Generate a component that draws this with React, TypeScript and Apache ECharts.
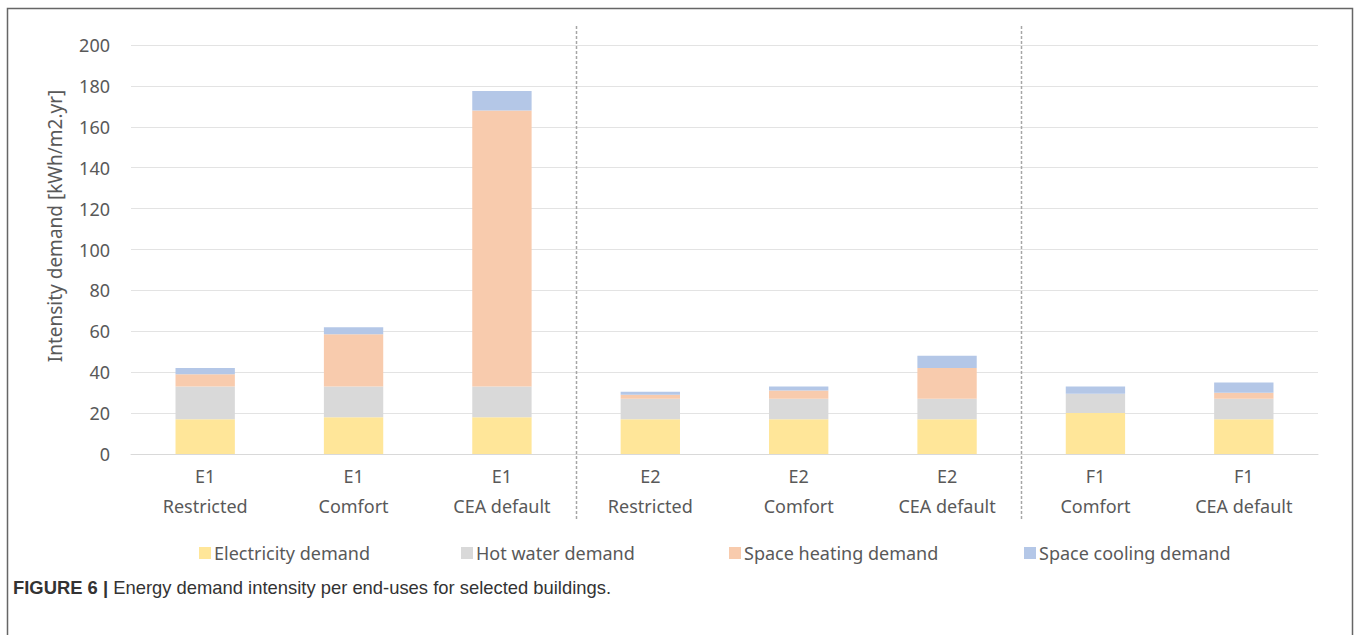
import React, { useEffect, useRef } from "react";
import * as echarts from "echarts";

// Buildings and scenarios (two-level category labels)
const categories = [
  "E1\nRestricted",
  "E1\nComfort",
  "E1\nCEA default",
  "E2\nRestricted",
  "E2\nComfort",
  "E2\nCEA default",
  "F1\nComfort",
  "F1\nCEA default",
];

// Demand intensity per end-use, kWh/m2.yr
const electricityDemand = [17, 18, 18, 17, 17, 17, 20, 17];
const hotWaterDemand = [16, 15, 15, 10, 10, 10, 9.5, 10];
const spaceHeatingDemand = [6, 25.5, 135, 2, 4, 15, 0, 3];
const spaceCoolingDemand = [3, 3.5, 9.5, 1.5, 2, 6, 3.5, 5];

const seriesNames = [
  "Electricity demand",
  "Hot water demand",
  "Space heating demand",
  "Space cooling demand",
];
const seriesColors = ["#FFE699", "#D9D9D9", "#F8CBAD", "#B4C7E7"];

// Indices after which a building group ends
const groupBoundaries = [3, 6];

const FONT = "'Noto Sans', 'Open Sans', sans-serif";
const TEXT = "#595959";
const SIZE = 18;

export default function App() {
  const ref = useRef<HTMLDivElement>(null);

  useEffect(() => {
    if (!ref.current) return;
    const chart = echarts.init(ref.current, null, { renderer: "svg" });

    const values = [electricityDemand, hotWaterDemand, spaceHeatingDemand, spaceCoolingDemand];
    const legendLeft = [199, 461, 729, 1024];

    chart.setOption({
      animation: false,
      backgroundColor: "#ffffff",
      textStyle: { fontFamily: FONT },
      grid: { left: 131, right: 40, top: 45, bottom: 181, containLabel: false },
      legend: seriesNames.map((name, i) => ({
        data: [name],
        left: legendLeft[i],
        top: 544,
        padding: 0,
        icon: "rect",
        itemWidth: 12,
        itemHeight: 12,
        itemGap: 4,
        selectedMode: false,
        textStyle: { fontSize: SIZE, color: TEXT, fontFamily: FONT, padding: [0, 0, 0, -2] },
      })),
      xAxis: {
        type: "category",
        data: categories,
        axisLine: { show: true, lineStyle: { color: "#D9D9D9", width: 1 } },
        axisTick: { show: false },
        axisLabel: {
          color: TEXT,
          fontSize: SIZE,
          lineHeight: 30,
          margin: 7,
          fontFamily: FONT,
          interval: 0,
        },
      },
      yAxis: {
        type: "value",
        min: 0,
        max: 200,
        interval: 20,
        axisLine: { show: false },
        axisTick: { show: false },
        axisLabel: { color: TEXT, fontSize: SIZE, margin: 21, fontFamily: FONT },
        splitLine: { lineStyle: { color: "#E3E3E3", width: 1 } },
      },
      series: seriesNames.map((name, i) => ({
        name,
        type: "bar",
        stack: "demand",
        barWidth: "40%",
        data: values[i],
        itemStyle: { color: seriesColors[i] },
      })),
    });

    // Dashed separators between building groups, placed at category boundaries
    const sepLines = groupBoundaries.map((b) => {
      const a = chart.convertToPixel({ xAxisIndex: 0 }, b - 1) as number;
      const c = chart.convertToPixel({ xAxisIndex: 0 }, b) as number;
      const x = Math.round((a + c) / 2) + 0.5;
      return {
        type: "line",
        shape: { x1: x, y1: 26, x2: x, y2: 520 },
        style: { stroke: "#A6A6A6", lineWidth: 1.5, lineDash: [3, 2] },
        silent: true,
      };
    });

    chart.setOption({
      graphic: [
        {
          type: "rect",
          shape: { x: 7.5, y: 8.5, width: 1345, height: 660 },
          style: { fill: "none", stroke: "#666666", lineWidth: 1.5 },
          silent: true,
        },
        ...sepLines,
        {
          type: "text",
          x: 55,
          y: 226,
          rotation: Math.PI / 2,
          style: {
            text: "Intensity demand [kWh/m2.yr]",
            fontSize: 19,
            fontFamily: FONT,
            fill: TEXT,
            align: "center",
            verticalAlign: "middle",
          },
        },
        {
          type: "text",
          x: 13,
          y: 587,
          style: {
            text: "{b|FIGURE 6 |} Energy demand intensity per end-uses for selected buildings.",
            fontSize: 18.4,
            fontFamily: "'Liberation Sans', Arial, sans-serif",
            fill: "#333333",
            verticalAlign: "middle",
            rich: {
              b: {
                fontSize: 18.4,
                fontWeight: "bold",
                fontFamily: "'Liberation Sans', Arial, sans-serif",
                fill: "#333333",
              },
            },
          },
        },
      ],
    });

    return () => chart.dispose();
  }, []);

  return (
    <div
      ref={ref}
      style={{ position: "fixed", left: 0, top: 0, width: 1358, height: 635 }}
    />
  );
}
